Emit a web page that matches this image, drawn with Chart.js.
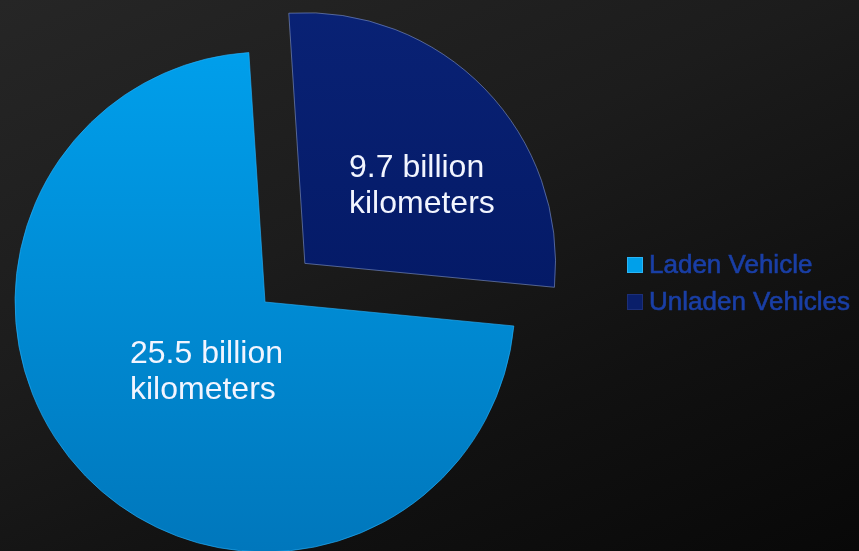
<!DOCTYPE html>
<html>
<head>
<meta charset="utf-8">
<script src="https://cdn.jsdelivr.net/npm/chart.js@4"></script>
<style>
  html, body { margin: 0; padding: 0; width: 859px; height: 551px; overflow: hidden; }
  body { background: linear-gradient(155deg, #262626 0%, #1c1c1c 40%, #111111 70%, #080808 100%); }
  #wrap { position: relative; width: 859px; height: 551px; }
  canvas { display: block; }
</style>
</head>
<body>
<div id="wrap"><canvas id="c" width="859" height="551"></canvas></div>
<script>
const categories = ['Laden Vehicle', 'Unladen Vehicles'];
const values = [25.5, 9.7];
const valueLabels = [['25.5 billion', 'kilometers'], ['9.7 billion', 'kilometers']];

const topColors = ['#00a3f0', '#0a2377'];
const bottomColors = ['#0077bc', '#00145c'];

function fillFor(ctx) {
  const chart = ctx.chart;
  const area = chart.chartArea;
  const i = ctx.dataIndex;
  if (!area) return topColors[i];
  const g = chart.ctx.createLinearGradient(0, 0, 0, chart.height);
  g.addColorStop(0, topColors[i]);
  g.addColorStop(1, bottomColors[i]);
  return g;
}

// label offsets relative to pie centre (style only)
const labelOffsets = [{dx: -135, dy: 61}, {dx: 84, dy: -125}];

const labelPlugin = {
  id: 'labels',
  afterDatasetsDraw(chart) {
    const meta = chart.getDatasetMeta(0);
    const c = chart.ctx;
    c.save();
    c.font = '32px "Liberation Sans", Arial, sans-serif';
    c.fillStyle = '#f2f5ff';
    c.textAlign = 'left';
    c.textBaseline = 'alphabetic';
    meta.data.forEach((arc, i) => {
      const o = labelOffsets[i];
      valueLabels[i].forEach((line, k) => {
        c.fillText(line, arc.x + o.dx, arc.y + o.dy + k * 36);
      });
    });
    c.restore();
  }
};

const legendPlugin = {
  id: 'sideLegend',
  afterDraw(chart) {
    const c = chart.ctx;
    c.save();
    c.font = '26px "Liberation Sans", Arial, sans-serif';
    c.textAlign = 'left';
    c.textBaseline = 'alphabetic';
    categories.forEach((name, i) => {
      const y = 273 + i * 37;
      c.fillStyle = i === 0 ? '#00a0ea' : '#0a1f6a';
      c.fillRect(627, y - 16, 16, 16);
      c.strokeStyle = i === 0 ? '#2ab4f5' : '#1c2f78';
      c.lineWidth = 1;
      c.strokeRect(627.5, y - 15.5, 15, 15);
      c.fillStyle = '#1a3fa6';
      c.strokeStyle = '#1a3fa6';
      c.lineWidth = 0.6;
      c.fillText(name, 649, y);
      c.strokeText(name, 649, y);
    });
    c.restore();
  }
};

new Chart(document.getElementById('c'), {
  type: 'pie',
  data: {
    labels: categories,
    datasets: [{
      data: values,
      backgroundColor: fillFor,
      borderColor: ['rgba(40,180,255,0.6)', 'rgba(140,160,210,0.55)'],
      borderWidth: 1,
      offset: [0, 222]
    }]
  },
  options: {
    responsive: false,
    animation: false,
    rotation: 95.5,
    radius: 250,
    layout: { padding: { left: 0, right: 329, top: 53, bottom: 0 } },
    plugins: {
      legend: { display: false },
      tooltip: { enabled: false }
    }
  },
  plugins: [labelPlugin, legendPlugin]
});
</script>
</body>
</html>
